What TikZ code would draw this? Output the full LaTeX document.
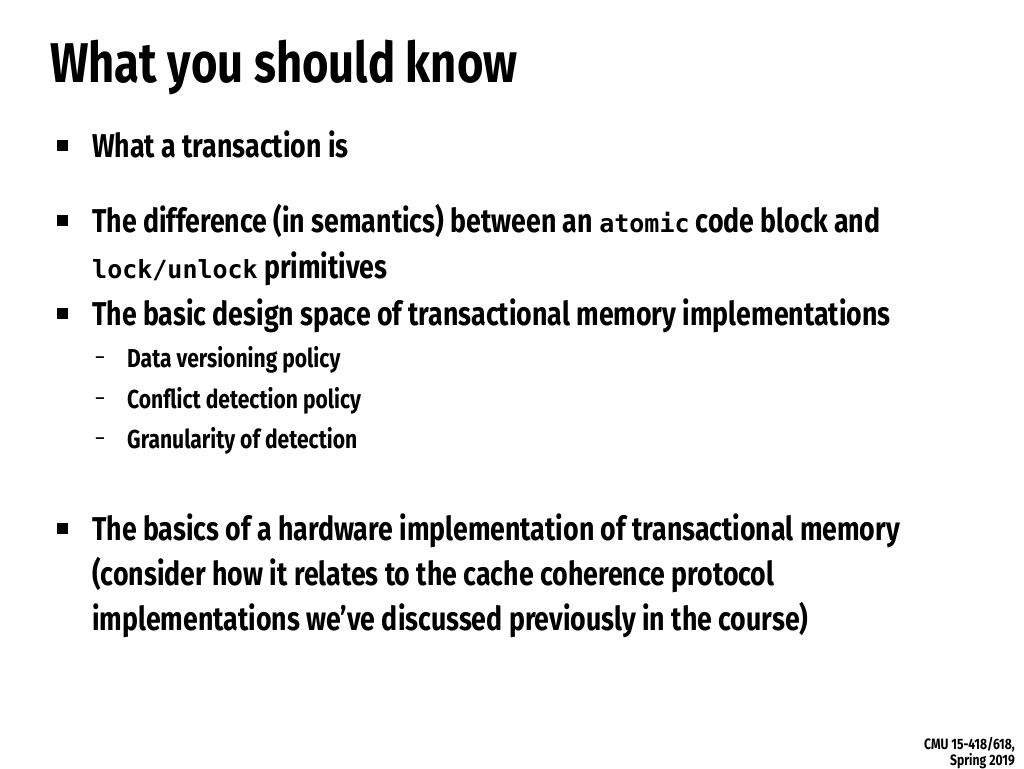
\documentclass[tikz,border=0pt]{standalone}
\usepackage{fontspec}
\setmainfont{Fira Sans}[FakeStretch=0.81,BoldFont={Fira Sans Bold}]
\setmonofont{DejaVu Sans Mono}
\newcommand{\cd}[1]{\texttt{\bfseries\fontsize{25}{25}\selectfont #1}}
\begin{document}
\begin{tikzpicture}[x=1pt,y=-1pt,
  txt/.style={anchor=base west,inner sep=0pt,font=\bfseries\fontsize{33}{33}\selectfont},
  sub/.style={anchor=base west,inner sep=0pt,font=\bfseries\fontsize{26}{26}\selectfont},
  bul/.style={fill=black,minimum size=11pt,inner sep=0pt},
  dsh/.style={anchor=base,inner sep=0pt,font=\fontsize{22}{22}\selectfont}]
\useasboundingbox (0,0) rectangle (1024,768);
\node[anchor=base west,inner sep=0pt,font=\bfseries\fontsize{56}{56}\selectfont] (t) at (50,82) {What you should know};
\node[bul] (b1) at (62,145) {};
\node[txt] (l1) at (92,157) {What a transaction is};
\node[bul] (b2) at (62,220) {};
\node[txt] (l2) at (92,232) {The difference (in semantics) between an \cd{atomic} code block and};
\node[txt] (l3) at (92,278) {\cd{lock/unlock} primitives};
\node[bul] (b3) at (62,313) {};
\node[txt] (l4) at (92,325) {The basic design space of transactional memory implementations};
\node[dsh] (d1) at (100,364) {--};
\node[sub] (s1) at (127,367) {Data versioning policy};
\node[dsh] (d2) at (100,405) {--};
\node[sub] (s2) at (127,408) {Conflict detection policy};
\node[dsh] (d3) at (100,445) {--};
\node[sub] (s3) at (127,448) {Granularity of detection};
\node[bul] (b4) at (62,528) {};
\node[txt] (l5) at (92,540) {The basics of a hardware implementation of transactional memory};
\node[txt] (l6) at (92,585) {(consider how it relates to the cache coherence protocol};
\node[txt] (l7) at (92,630) {implementations we’ve discussed previously in the course)};
\node[anchor=base east,inner sep=0pt,font=\bfseries\fontsize{15}{15}\selectfont] (f1) at (1015,749) {CMU 15-418/618,};
\node[anchor=base east,inner sep=0pt,font=\bfseries\fontsize{15}{15}\selectfont] (f2) at (1015,765) {Spring 2019};
\end{tikzpicture}
\end{document}
